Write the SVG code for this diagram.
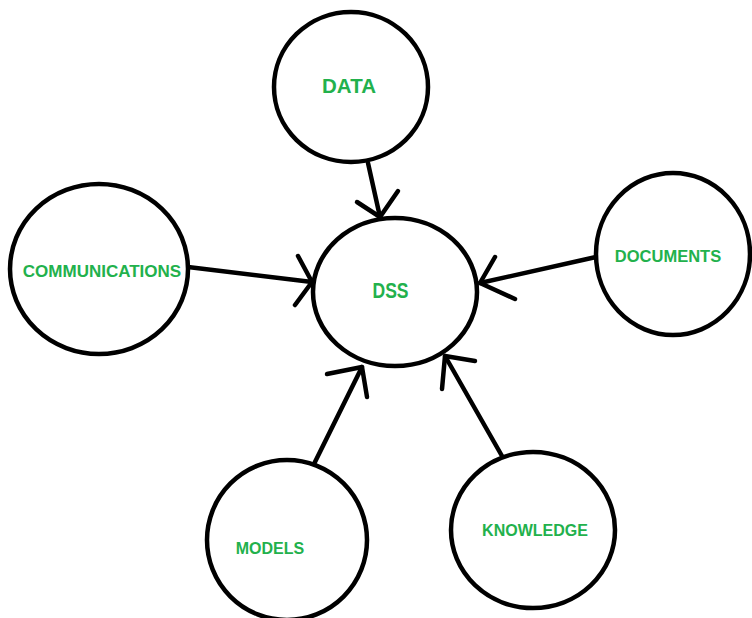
<svg xmlns="http://www.w3.org/2000/svg" width="752" height="618" viewBox="0 0 752 618">
<style>
.node ellipse{fill:#fff;stroke:#000;stroke-width:4.5}
.lbl{fill:#22b14c;font-family:"Liberation Sans",Arial,sans-serif;font-weight:bold;text-anchor:middle}
#connectors line,#connectors polyline{stroke:#000;stroke-width:4.5;stroke-linecap:round;stroke-linejoin:round;fill:none}
</style>
<rect width="752" height="618" fill="#fff"/>
<g id="connectors">
<line x1="368" y1="163" x2="380" y2="217"/>
<polyline points="357,202 380,217 398,191"/>
<line x1="188" y1="267" x2="312" y2="282"/>
<polyline points="298,256 312,282 295,305"/>
<line x1="596" y1="257" x2="480" y2="283"/>
<polyline points="495,257 480,283 515,299"/>
<line x1="313" y1="466" x2="362" y2="367"/>
<polyline points="327,374 362,367 367,397"/>
<line x1="502" y1="456" x2="445" y2="356"/>
<polyline points="475,361 445,356 442,389"/>
</g>
<g id="data" class="node"><ellipse cx="351" cy="87" rx="77" ry="75"/><text class="lbl" x="349" y="93" font-size="20.5">DATA</text></g>
<g id="dss" class="node"><ellipse cx="395" cy="292" rx="82" ry="74"/><text class="lbl" x="390.5" y="298" font-size="22" textLength="36" lengthAdjust="spacingAndGlyphs">DSS</text></g>
<g id="communications" class="node"><ellipse cx="99" cy="269" rx="89" ry="85"/><text class="lbl" x="102" y="277" font-size="17">COMMUNICATIONS</text></g>
<g id="documents" class="node"><ellipse cx="673" cy="254" rx="77" ry="81"/><text class="lbl" x="668" y="262" font-size="16.5">DOCUMENTS</text></g>
<g id="models" class="node"><ellipse cx="287" cy="540" rx="80" ry="80"/><text class="lbl" x="270" y="554" font-size="16">MODELS</text></g>
<g id="knowledge" class="node"><ellipse cx="533" cy="530" rx="82" ry="78"/><text class="lbl" x="535" y="536" font-size="16">KNOWLEDGE</text></g>
</svg>
